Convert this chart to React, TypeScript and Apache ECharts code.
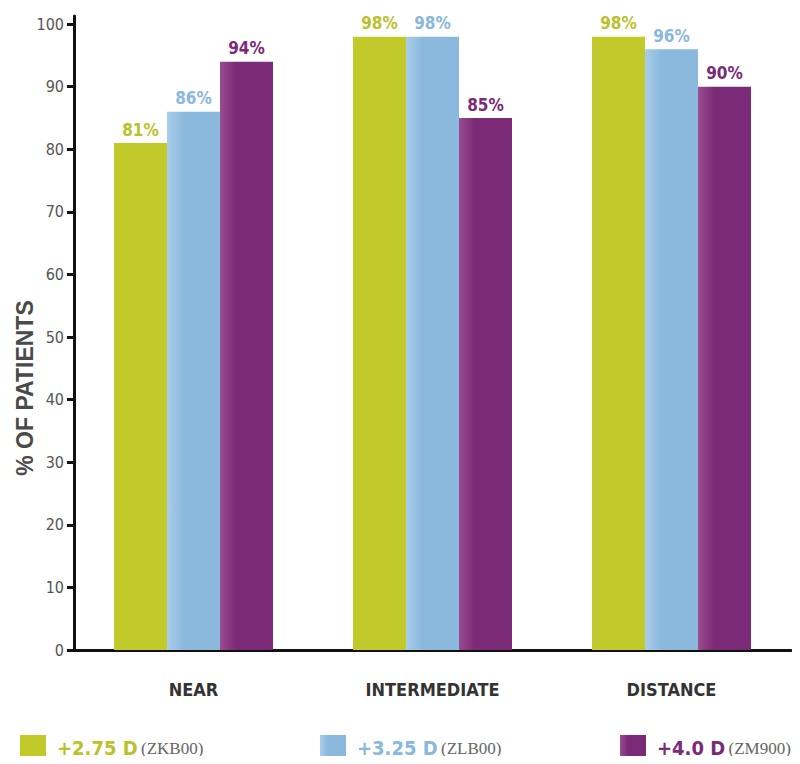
import React, { useEffect, useRef } from "react";
import * as echarts from "echarts";

const categories = ["NEAR", "INTERMEDIATE", "DISTANCE"];
const seriesNames = ["+2.75 D", "+3.25 D", "+4.0 D"];
const modelCodes = ["(ZKB00)", "(ZLB00)", "(ZM900)"];
const lowAdd = [81, 98, 98];
const midAdd = [86, 98, 96];
const highAdd = [94, 85, 90];
const yTicks = [0, 10, 20, 30, 40, 50, 60, 70, 80, 90, 100];

const NARROW = "'Liberation Sans Narrow', 'DejaVu Sans Condensed', 'Roboto Condensed', 'Liberation Sans', sans-serif";
const SERIF = "'Liberation Serif', 'DejaVu Serif', serif";

const baseColors = ["#c1c92b", "#8bb9dd", "#7a2a77"];
const edgeColors = ["#c1c92b", "#aacdea", "#9a4d90"];
const labelColors = ["#b9c22a", "#8ab8dc", "#7a2a77"];

function barFill(i: number) {
  return new echarts.graphic.LinearGradient(0, 0, 1, 0, [
    { offset: 0, color: edgeColors[i] },
    { offset: 0.3, color: baseColors[i] },
    { offset: 1, color: baseColors[i] },
  ]);
}

export default function App() {
  const ref = useRef<HTMLDivElement>(null);

  useEffect(() => {
    if (!ref.current) return;
    const chart = echarts.init(ref.current, undefined, { renderer: "svg" });
    const data = [lowAdd, midAdd, highAdd];

    const legends = seriesNames.map((name, i) => ({
      show: true,
      left: [20, 320, 620][i],
      top: 735,
      height: 26,
      padding: 0,
      orient: "horizontal" as const,
      icon: "rect",
      itemWidth: 26,
      itemHeight: 26,
      data: [name],
      selectedMode: false,
      formatter: () => `{a|${name}} {b|${modelCodes[i]}}`,
      textStyle: {
        rich: {
          a: {
            fontFamily: NARROW,
            fontWeight: "bold",
            fontSize: 20,
            lineHeight: 26,
            color: labelColors[i],
            padding: [0, 0, 0, 6],
          },
          b: {
            fontFamily: SERIF,
            fontSize: 17,
            lineHeight: 26,
            color: "#666666",
          },
        },
      },
    }));

    chart.setOption({
      animation: false,
      backgroundColor: "#ffffff",
      grid: { left: 74, right: 9, top: 16, bottom: 114, outerBoundsMode: "none" },
      legend: legends,
      graphic: [
        {
          type: "text",
          x: 25,
          y: 388,
          rotation: Math.PI / 2,
          style: {
            text: "% OF PATIENTS",
            fontFamily: "'Liberation Sans', Arial, sans-serif",
            fontWeight: "bold",
            fontSize: 23,
            fill: "#4a4a4a",
            align: "center",
            verticalAlign: "middle",
          },
        },
      ],
      xAxis: {
        type: "category",
        data: categories,
        axisLine: { lineStyle: { color: "#111111", width: 3 } },
        axisTick: { show: false },
        axisLabel: {
          margin: 30,
          fontFamily: NARROW,
          fontWeight: "bold",
          fontSize: 18,
          color: "#333333",
        },
      },
      yAxis: {
        type: "value",
        min: 0,
        max: 101.3,
        splitLine: { show: false },
        axisLine: { show: true, lineStyle: { color: "#111111", width: 3 } },
        axisTick: {
          show: true,
          length: 7,
          customValues: yTicks,
          lineStyle: { color: "#111111", width: 3 },
        },
        axisLabel: {
          customValues: yTicks,
          margin: 10,
          fontFamily: NARROW,
          fontSize: 16,
          color: "#555555",
        },
      },
      series: seriesNames.map((name, i) => ({
        name,
        type: "bar",
        data: data[i],
        barWidth: 53,
        barGap: "0%",
        itemStyle: { color: barFill(i) },
        label: {
          show: true,
          position: "top",
          distance: 5,
          formatter: "{c}%",
          fontFamily: NARROW,
          fontWeight: "bold",
          fontSize: 17,
          color: labelColors[i],
        },
      })),
    });

    return () => chart.dispose();
  }, []);

  return <div ref={ref} style={{ width: 800, height: 764, margin: -8 }} />;
}
